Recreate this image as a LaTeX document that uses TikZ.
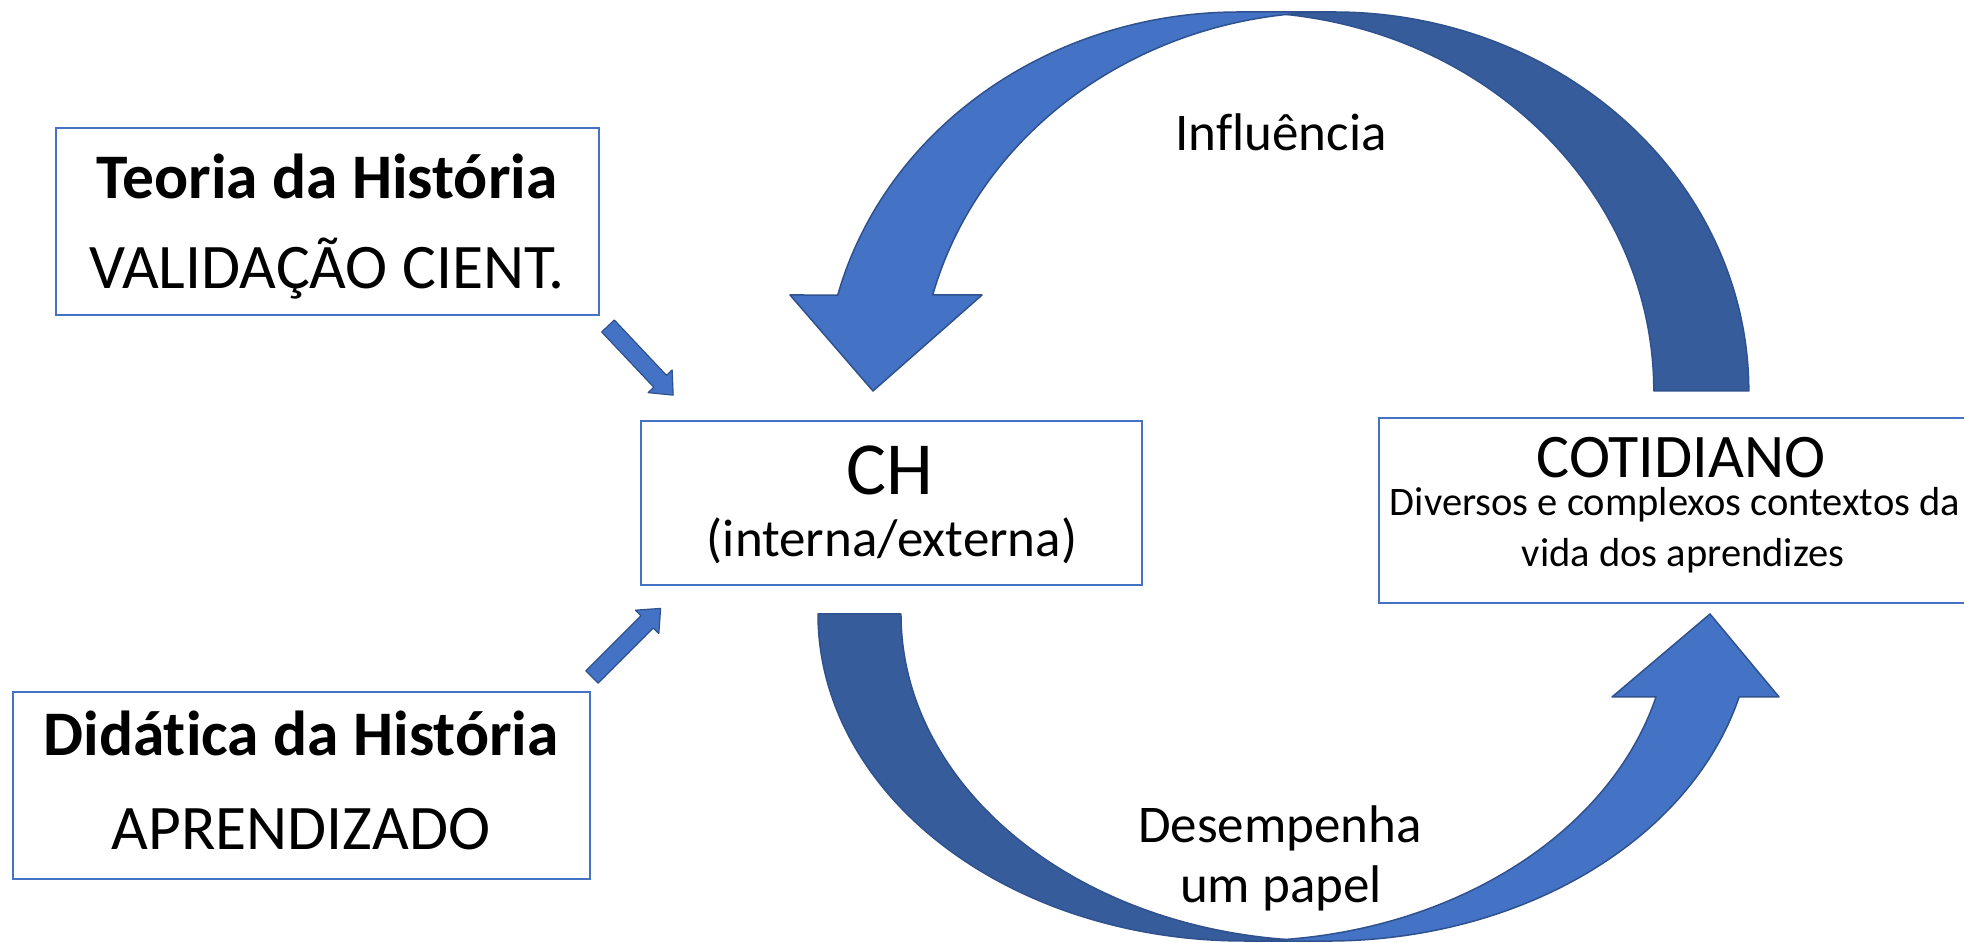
\documentclass[tikz,border=0pt]{standalone}
\usepackage{fontspec}
\setmainfont{Carlito}[Ligatures=NoCommon]
\definecolor{boxblue}{HTML}{4472C4}
\definecolor{frontblue}{HTML}{4472C4}
\definecolor{backblue}{HTML}{365C9C}
\definecolor{edgeblue}{HTML}{2F528F}
\newcommand{\fsz}[1]{\fontsize{#1pt}{#1pt}\selectfont}
\tikzset{
  frame/.style={draw=boxblue, line width=2pt, fill=white, rectangle, inner sep=0pt},
  txt/.style={anchor=base, inner sep=0pt, text=black},
  front/.style={fill=frontblue, draw=edgeblue, line width=1.5pt, line join=round},
  back/.style={fill=backblue, draw=edgeblue, line width=1.5pt, line join=round},
}
\begin{document}
\begin{tikzpicture}[x=1pt,y=1pt]
\useasboundingbox (0,0) rectangle (1964,942);
\clip (0,0) rectangle (1964,942);
\fill[white] (0,0) rectangle (1964,942);

% boxes
\node[frame, minimum width=543pt, minimum height=187pt] (teoria) at (327.5,720.5) {};
\node[frame, minimum width=577.5pt, minimum height=187pt] (didatica) at (301.25,156.5) {};
\node[frame, minimum width=501pt, minimum height=164pt] (ch) at (891.5,439) {};
\node[frame, minimum width=609pt, minimum height=185pt] (cot) at (1683.5,431.5) {};

% texts
\node[txt, font=\fsz{63.5}\bfseries] (t1) at (327,743) {Teoria da História};
\node[txt, font=\fsz{63.5}] (t2) at (327,653) {VALIDAÇÃO CIENT.};
\node[txt, font=\fsz{63.5}\bfseries] (d1) at (301,186) {Didática da História};
\node[txt, font=\fsz{63.5}] (d2) at (301,92) {APRENDIZADO};
\node[txt, font=\fsz{75}] (c1) at (890,447) {CH};
\node[txt, font=\fsz{53}] (c2) at (892,385) {(interna/externa)};
\node[txt, font=\fsz{62}] (k1) at (1681,464) {COTIDIANO};
\node[txt, font=\fsz{40.5}] (k2) at (1675,426) {Diversos e complexos contextos da};
\node[txt, font=\fsz{40.5}] (k3) at (1683,375) {vida dos aprendizes};

% top curved arrow (Influência)
\path[back] (1286.5,927.5) arc[start angle=96.575, end angle=0, x radius=414.8, y radius=379]
  -- (1653.8,551) arc[start angle=0, end angle=83.425, x radius=414.8, y radius=379] -- cycle;
\path[front] (873,551) -- (982,647) -- (932.7,647)
  arc[start angle=165.33, end angle=90, x radius=414.8, y radius=379]
  -- (1239,930) arc[start angle=90, end angle=165.33, x radius=414.8, y radius=379]
  -- (790,647) -- cycle;
\node[txt, font=\fsz{53}] (infl) at (1281,791) {Influência};

% bottom curved arrow (Desempenha um papel)
\path[back] (818,328) arc[start angle=180, end angle=275.59, x radius=426, y radius=327]
  arc[start angle=264.41, end angle=180, x radius=426, y radius=327] -- cycle;
\path[front] (1710,328) -- (1779,245) -- (1739.1,245)
  arc[start angle=-14.7, end angle=-90, x radius=426, y radius=327]
  -- (1244,1) arc[start angle=-90, end angle=-14.7, x radius=426, y radius=327]
  -- (1612,245) -- cycle;
\node[txt, font=\fsz{53}] (des1) at (1280,99) {Desempenha};
\node[txt, font=\fsz{53}] (des2) at (1281,40) {um papel};

% small arrows
\begin{scope}[shift={(608,616)}, rotate=-46.7]
  \path[front, line width=1.2pt] (0,-8.7) -- (76,-8.7) -- (76,-16.5) -- (95,0) -- (76,16.5) -- (76,8.7) -- (0,8.7) -- cycle;
\end{scope}
\begin{scope}[shift={(592,265)}, rotate=45]
  \path[front, line width=1.2pt] (0,-8.7) -- (78,-8.7) -- (78,-16.5) -- (97,0) -- (78,16.5) -- (78,8.7) -- (0,8.7) -- cycle;
\end{scope}
\end{tikzpicture}
\end{document}
